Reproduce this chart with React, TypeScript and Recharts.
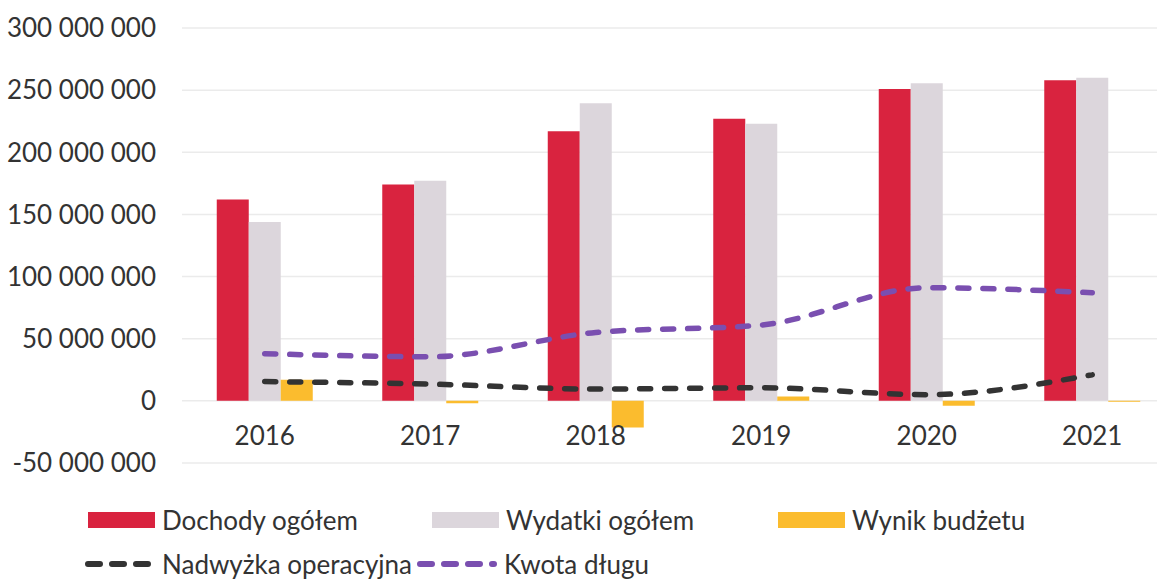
import React from 'react';
import { ComposedChart, Bar, Line, XAxis, YAxis, CartesianGrid } from 'recharts';

const years = ['2016', '2017', '2018', '2019', '2020', '2021'];
const dochody = [162000000, 174000000, 217000000, 227000000, 251000000, 258000000];
const wydatki = [144000000, 177000000, 239500000, 223000000, 255500000, 260000000];
const wynik = [17000000, -2000000, -21500000, 3500000, -4000000, -800000];
const nadwyzka = [15500000, 13500000, 9500000, 10500000, 5000000, 21000000];
const dlug = [38000000, 35500000, 55000000, 61000000, 91000000, 87000000];
const yTicks = [-50000000, 0, 50000000, 100000000, 150000000, 200000000, 250000000, 300000000];

const data = years.map((year, i) => ({
  year,
  dochody: dochody[i],
  wydatki: wydatki[i],
  wynik: wynik[i],
  nadwyzka: nadwyzka[i],
  dlug: dlug[i],
}));

const FONT = 'Lato, "Open Sans", sans-serif';
const TEXT = '#333333';
const RED = '#d9233f';
const GREY = '#dcd6dc';
const YELLOW = '#fbbc2e';
const BLACK = '#333333';
const PURPLE = '#7a4fb0';

const fmt = (v: number) => String(v).replace(/\B(?=(\d{3})+(?!\d))/g, ' ');

// year labels sit just under the zero line, like in the original
const YearTick = ({ x, y, payload }: any) => (
  <text x={x} y={y - 36} textAnchor="middle" dominantBaseline="central" fill={TEXT} fontSize={26} fontFamily={FONT}>
    {payload.value}
  </text>
);

const Swatch = ({ color }: { color: string }) => (
  <div style={{ width: 67, height: 16, background: color, marginRight: 7 }} />
);

const DashSwatch = ({ color, width }: { color: string; width: number }) => (
  <svg width={width} height={12} style={{ marginRight: 6 }}>
    <line x1={4} y1={6} x2={width - 4} y2={6} stroke={color} strokeWidth={6} strokeDasharray="12 12" strokeLinecap="round" />
  </svg>
);

const legendText: React.CSSProperties = { fontSize: 26, color: TEXT, fontFamily: FONT, lineHeight: '30px' };

export default function App() {
  return (
    <div style={{ position: 'absolute', left: 0, top: 0, width: 1157, height: 581, background: '#fff', overflow: 'hidden' }}>
      <ComposedChart
        width={1175}
        height={490}
        data={data}
        margin={{ top: 28, right: 0, bottom: 15, left: 0 }}
        barGap={0}
        barCategoryGap="21%"
      >
        <CartesianGrid vertical={false} stroke="#ebebeb" strokeWidth={1.5} />
        <XAxis dataKey="year" height={12} axisLine={false} tickLine={false} tick={<YearTick />} interval={0} />
        <YAxis
          width={182}
          domain={[-50000000, 300000000]}
          ticks={yTicks}
          interval={0}
          tickFormatter={fmt}
          axisLine={false}
          tickLine={false}
          tickMargin={20}
          tick={{ fill: TEXT, fontSize: 26, fontFamily: FONT }}
        />
        <Bar dataKey="dochody" fill={RED} isAnimationActive={false} />
        <Bar dataKey="wydatki" fill={GREY} isAnimationActive={false} />
        <Bar dataKey="wynik" fill={YELLOW} isAnimationActive={false} />
        <Line
          type="monotone"
          dataKey="nadwyzka"
          stroke={BLACK}
          strokeWidth={5.5}
          strokeDasharray="11 14"
          strokeLinecap="round"
          dot={false}
          isAnimationActive={false}
        />
        <Line
          type="monotone"
          dataKey="dlug"
          stroke={PURPLE}
          strokeWidth={5.5}
          strokeDasharray="11 14"
          strokeLinecap="round"
          dot={false}
          isAnimationActive={false}
        />
      </ComposedChart>

      <div style={{ position: 'absolute', top: 505, left: 88, display: 'flex', alignItems: 'center' }}>
        <div style={{ display: 'flex', alignItems: 'center', width: 344 }}>
          <Swatch color={RED} />
          <span style={legendText}>Dochody ogółem</span>
        </div>
        <div style={{ display: 'flex', alignItems: 'center', width: 346 }}>
          <Swatch color={GREY} />
          <span style={legendText}>Wydatki ogółem</span>
        </div>
        <div style={{ display: 'flex', alignItems: 'center' }}>
          <Swatch color={YELLOW} />
          <span style={legendText}>Wynik budżetu</span>
        </div>
      </div>
      <div style={{ position: 'absolute', top: 549, left: 84, display: 'flex', alignItems: 'center' }}>
        <DashSwatch color={BLACK} width={72} />
        <span style={legendText}>Nadwyżka operacyjna</span>
        <div style={{ width: 4 }} />
        <DashSwatch color={PURPLE} width={82} />
        <span style={legendText}>Kwota długu</span>
      </div>
    </div>
  );
}
